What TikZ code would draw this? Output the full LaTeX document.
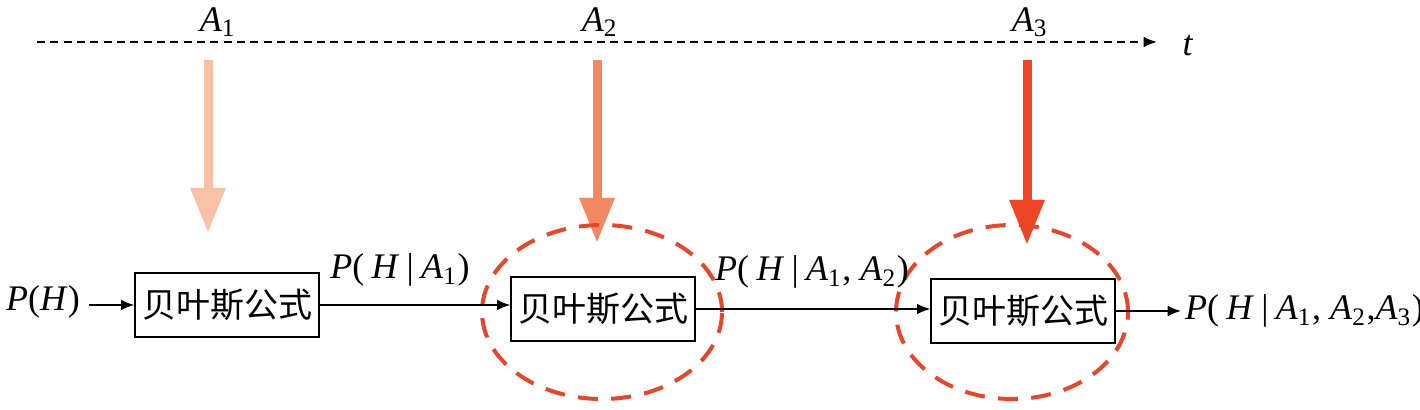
\documentclass[tikz,border=0pt]{standalone}
\usepackage{fontspec}
\setmainfont{Liberation Serif}
\newfontfamily\cjk{Noto Sans CJK SC}
\usetikzlibrary{arrows.meta}
\definecolor{cA}{HTML}{F9C2A6}
\definecolor{cB}{HTML}{F38962}
\definecolor{cC}{HTML}{EE4524}
\definecolor{cE}{HTML}{E9452A}
\newcommand{\sbs}[1]{\textsubscript{#1}}
\newcommand{\gp}{\hspace{2.2pt}}
\begin{document}
\begin{tikzpicture}[x=0.3pt,y=-0.3pt,
  bayesbox/.style={draw, line width=0.6pt, minimum width=55pt, minimum height=19pt, inner sep=0pt, font=\cjk\fontsize{10.2}{12}\selectfont},
  lbl/.style={font=\fontsize{10.8}{13}\selectfont, inner sep=1pt},
  conn/.style={-{Latex[length=4pt,width=3.2pt]}, line width=0.5pt},
  bigarrow/.style={line width=2.7pt, -{Triangle[length=13.5pt,width=9.9pt]}},
  ellring/.style={cE, line width=1.2pt, dash pattern=on 6pt off 4pt}]
\useasboundingbox (0,0) rectangle (1420,410);
% time axis
\coordinate (ts) at (37,42);
\coordinate (te) at (1157,42);
\draw[line width=0.6pt, dash pattern=on 2.4pt off 1.6pt, -{Latex[length=4pt,width=3.2pt]}] (ts) -- (te);
\node[lbl] (t) at (1188,46) {\textit{t}};
\node[lbl] (a1) at (218,22) {\textit{A}\sbs{1}};
\node[lbl] (a2) at (600,22) {\textit{A}\sbs{2}};
\node[lbl] (a3) at (1030,22) {\textit{A}\sbs{3}};
% big arrows
\coordinate (s1) at (208,60); \coordinate (e1) at (208,233);
\coordinate (s2) at (597,60); \coordinate (e2) at (597,243);
\coordinate (s3) at (1027,60); \coordinate (e3) at (1027,245);
\draw[bigarrow, cA] (s1) -- (e1);
\draw[bigarrow, cB] (s2) -- (e2);
\draw[bigarrow, cC] (s3) -- (e3);
% ellipses
\draw[ellring] (602,312) ellipse [x radius=36pt, y radius=26.1pt];
\draw[ellring] (1012,312) ellipse [x radius=34.8pt, y radius=26.1pt];
% boxes
\node[bayesbox] (b1) at (227,305) {贝叶斯公式};
\node[bayesbox] (b2) at (603,309) {贝叶斯公式};
\node[bayesbox] (b3) at (1023,311) {贝叶斯公式};
\node[lbl] (ph) at (43,302) {\textit{P}(\textit{H})};
\node[lbl, anchor=west] (out) at (1181,311) {\textit{P}(\gp\textit{H}\gp|\gp\textit{A}\sbs{1}, \textit{A}\sbs{2},\textit{A}\sbs{3})};
\node[lbl] (l1) at (400,270) {\textit{P}(\gp\textit{H}\gp|\gp\textit{A}\sbs{1})};
\node[lbl] (l2) at (812,272) {\textit{P}(\gp\textit{H}\gp|\gp\textit{A}\sbs{1}, \textit{A}\sbs{2})};
% connectors
\draw[conn] (ph.east |- b1.west) ++(1.5pt,0) coordinate (phs) -- (b1.west);
\draw[conn] (b1.east) -- (b1.east -| b2.west);
\draw[conn] (b2.east) -- (b2.east -| b3.west);
\draw[conn] (b3.east) -- (out.west |- b3.east);
\end{tikzpicture}
\end{document}
